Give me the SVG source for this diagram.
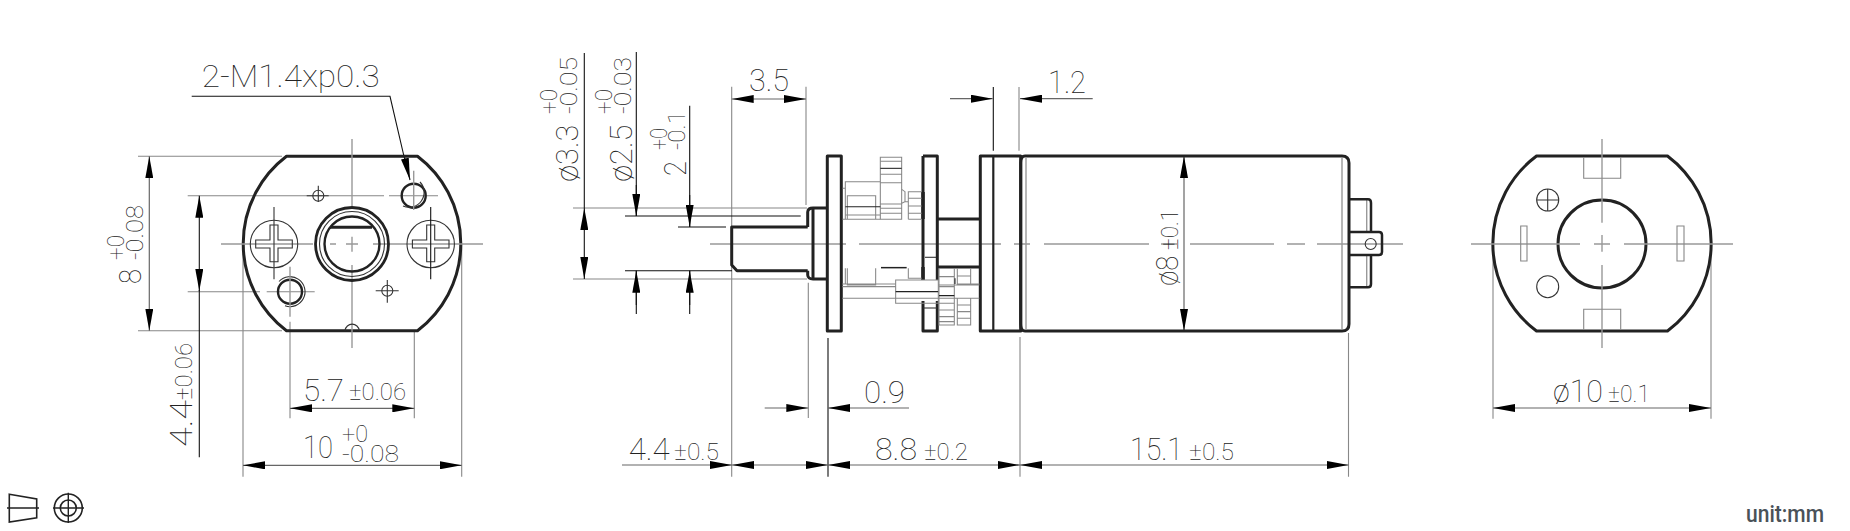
<svg xmlns="http://www.w3.org/2000/svg" width="1850" height="531" viewBox="0 0 1850 531">
<style>
text{font-family:Roboto,"Liberation Sans",sans-serif;font-weight:100;fill:#222}
.b{font-size:32px}
.s{font-size:23px}
.u{font-family:Roboto,"Liberation Sans",sans-serif;font-size:24px;font-weight:500;fill:#4a5258}
.o{fill:none;stroke:#222;stroke-width:3;stroke-linejoin:round}
.m{fill:none;stroke:#333;stroke-width:1.1}
.c{fill:none;stroke:#999;stroke-width:1.4}
.e{fill:none;stroke:#888;stroke-width:1.1}
.k{fill:none;stroke:#111;stroke-width:1.1}
.d{fill:none;stroke:#666;stroke-width:1.2;marker-start:url(#a);marker-end:url(#a)}
.r{fill:none;stroke:#666;stroke-width:1.2;marker-end:url(#a)}
.kd{fill:none;stroke:#111;stroke-width:1.1;marker-start:url(#a);marker-end:url(#a)}
.kr{fill:none;stroke:#111;stroke-width:1.1;marker-end:url(#a)}
</style>
<defs>
<marker id="a" markerUnits="userSpaceOnUse" markerWidth="22" markerHeight="8" viewBox="0 0 22 8" refX="22" refY="4" orient="auto-start-reverse"><path d="M0 0L22 4L0 8z" fill="#000"/></marker>
</defs>
<rect width="1850" height="531" fill="#fff"/>

<g id="connectors">
<path class="e" d="M138 156.3H282M138 330.7H282M187.7 195.7H384M389 195.7H438M187.7 291.7H260M266.7 291.7H314.7"/>
<path class="d" d="M149.3 156.3V330.7"/>
<path class="k" d="M199.3 290V457.3"/>
<path class="kd" d="M199.3 195.7V291"/>
<path class="e" d="M290 321.7V418.3M414.3 331V418.3M243 244V476.7M461.7 244V476.7"/>
<path class="d" d="M290 408.3H414.3"/>
<path class="d" d="M243 465.3H461.7"/>
<path class="k" d="M191.7 96.3H390L406 165"/>
<path class="kr" d="M404 155L410 180"/>
<path class="e" d="M573 208H807M573 279H807M731.7 86.7V476.7M806 86.7V205M808.3 282.7V418"/>
<path class="k" d="M625 216H800.7M625 270.7H732M678 227H726"/>
<path class="kd" d="M584.3 208V279"/>
<path class="k" d="M584.3 53V208"/>
<path class="k" d="M636.3 52V216M636.3 270.7V314M689.7 105.7V227M689.7 270.7V314"/>
<path class="kr" d="M636.3 185V216"/>
<path class="kr" d="M636.3 305V270.7"/>
<path class="kr" d="M689.7 195V226.7"/>
<path class="kr" d="M689.7 305V270.7"/>
<path class="d" d="M731.7 99H806"/>
<path class="k" d="M993.3 87V150.7M828 338V476.7"/>
<path class="e" d="M1019 87V150.7M1020 337V476.7M1348.5 333V476.7"/>
<path class="r" d="M950 98.7H992.7"/>
<path class="r" d="M1092.7 98.7H1020"/>
<path class="r" d="M764.7 408H808.3"/>
<path class="r" d="M909 408H828"/>
<path class="r" d="M622 465H732"/>
<path class="d" d="M732 465H828"/>
<path class="d" d="M828 465H1020"/>
<path class="d" d="M1020 465H1348.5"/>
<path class="d" d="M1184 156V331"/>
<path class="e" d="M1493 244V418.7M1711 244V418.7"/>
<path class="d" d="M1493 408H1711"/>
</g>

<g id="front-view">
<path class="o" d="M286.5 156.3H417.5A109.5 109.5 0 0 1 417.5 330.7H286.5A109.5 109.5 0 0 1 286.5 156.3Z"/>
<path class="c" d="M352 139V206M352 236.7V251.7M352 265V348M221 244H313M330 244H336M346 244H358M373 244H483"/>
<circle class="m" cx="318.3" cy="195.7" r="5.5"/><path class="m" d="M306.7 195.7H328.7M318.3 185.7V202"/>
<circle class="m" cx="387.3" cy="290.7" r="5.5"/><path class="m" d="M375.7 290.7H398.7M387.3 280V302.7"/>
<circle cx="413.7" cy="195.7" r="12" fill="none" stroke="#222" stroke-width="2.4"/>
<path class="m" d="M420 182A15 15 0 0 1 403 206"/>
<path class="c" d="M413.7 170.7V210"/>
<circle cx="290" cy="291.7" r="12" fill="none" stroke="#222" stroke-width="2.4"/>
<path class="m" d="M279 281.5A15 15 0 1 1 285 305.8"/>
<path class="c" d="M290 266.7V316.7"/>
<circle class="m" cx="274" cy="244" r="23.7"/>
<path class="m" d="M270 225H278V240H292.3V248H278V261.7H270V248H255.7V240H270Z"/>
<path class="m" d="M274 207V279.3"/>
<circle class="m" cx="430.7" cy="244" r="23.7"/>
<path class="m" d="M426.7 225H434.7V240H449V248H434.7V261.7H426.7V248H412.4V240H426.7Z"/>
<path class="k" d="M430.7 207V279.3"/>
<circle cx="352" cy="244" r="36.5" fill="none" stroke="#222" stroke-width="2.8"/>
<circle class="m" cx="352" cy="244" r="32.5"/>
<circle cx="352" cy="244" r="27.5" fill="none" stroke="#222" stroke-width="2.4"/>
<path fill="none" stroke="#222" stroke-width="3" d="M330 227.3H372"/>
<path class="m" d="M345 330.5A7.2 7.2 0 0 1 359.3 330.5"/>
<text class="b" x="201.7" y="86.7" textLength="178" lengthAdjust="spacingAndGlyphs">2-M1.4xp0.3</text>
<text class="b" x="303" y="400.7" textLength="41" lengthAdjust="spacingAndGlyphs">5.7</text>
<text class="s" x="349" y="400" textLength="57" lengthAdjust="spacingAndGlyphs">±0.06</text>
<text class="b" x="303" y="458" textLength="30" lengthAdjust="spacingAndGlyphs">10</text>
<text class="s" x="342" y="441.7" textLength="26" lengthAdjust="spacingAndGlyphs">+0</text>
<text class="s" x="342" y="461.7" textLength="57" lengthAdjust="spacingAndGlyphs">-0.08</text>
<text class="b" transform="translate(192 447) rotate(-90)" textLength="47" lengthAdjust="spacingAndGlyphs">4.4</text>
<text class="s" transform="translate(192 400) rotate(-90)" textLength="57" lengthAdjust="spacingAndGlyphs">±0.06</text>
<text class="b" transform="translate(140.7 284) rotate(-90)" textLength="15" lengthAdjust="spacingAndGlyphs">8</text>
<text class="s" transform="translate(142.7 260) rotate(-90)" textLength="55" lengthAdjust="spacingAndGlyphs">-0.08</text>
<text class="s" transform="translate(124 260) rotate(-90)" textLength="25" lengthAdjust="spacingAndGlyphs">+0</text>
</g>

<g id="side-view">
<path class="c" d="M710 244H846M859 244H1001M1014 244H1030M1044 244H1149M1161 244H1177M1190 244H1274M1287 244H1305M1317 244H1403"/>
<path class="o" d="M807.7 227H731.7V265L737 270.7H807.7"/>
<path class="o" d="M807.7 227V212Q808 208 813 208H827M807.7 270.7V275Q808 279 813 279H827M813 208V279"/>
<rect class="o" x="827.3" y="156" width="14" height="175"/>
<path class="o" d="M923 156H937.3V267M923 156V280M923 301V331H937.3V301M937.3 267V280"/>
<path fill="none" stroke="#222" stroke-width="3.5" d="M923 192V219M923 267V280"/>
<path class="m" d="M925 257.3H936"/>
<path class="m" d="M923 308H937"/>
<path class="o" d="M937.3 219H980.3M937.3 267H980.3"/>
<path class="o" d="M980.3 156H1020.7V331H980.3Z"/>
<path fill="none" stroke="#222" stroke-width="2.2" d="M993.3 156V331"/>
<path class="o" d="M1025 156H1342Q1349 156 1349 163V324Q1349 331 1342 331H1025Q1020.7 331 1020.7 324V163Q1020.7 156 1025 156Z"/>
<path class="c" d="M1026 157V330M1342 158V329M1366.7 200V232M1366.7 256V287"/>
<path fill="none" stroke="#222" stroke-width="2.5" d="M1349 199.3H1368Q1371 199.3 1371 203V232M1349 287.3H1368Q1371 287.3 1371 284V255M1349 232H1379Q1382 232 1382 235V252Q1382 255 1379 255H1349"/>
<circle class="m" cx="1370.7" cy="244" r="5.5"/>
<g transform="translate(800 130) scale(.3333)" fill="none" stroke="#888" stroke-width="3.2">
<path d="M241 82H305V268H241ZM241 94H305M241 133H305M241 158H305M241 222H305M241 235H305M241 250H305"/>
<path stroke="#222" d="M241 115H305"/>
<path d="M136 268V155H241M128 175H136M128 268H241M142 268V197H227V268"/>
<path stroke="#222" d="M136 230H241"/>
<path d="M136 255H241M305 178L315 185V215L305 220M315 215H325V268M325 268V185H365M325 205H365M325 228H365M325 250H365M325 268H365"/>
<path d="M136 415V462M142 415V465H227V415M127 462H287M127 505H287M127 470H287M287 450H415V520H287ZM287 505H415M325 415V445H365"/>
<path stroke="#222" d="M287 485H415"/>
<path stroke="#222" stroke-width="4.5" d="M243 413H320"/>
<path d="M417 415V585H463V415M417 440H463M417 470H463M417 520H463M417 540H463M417 560H463M417 575H463"/>
<path stroke="#222" d="M417 497H463M465 445V462"/>
<path d="M472 415V465H512V415M472 438H512M472 462H512M472 505V585H512V505M472 525H512M472 545H512M472 565H512M512 462H538M415 465H538M415 505H538"/>
</g>
<text class="b" transform="translate(578 181.7) rotate(-90)" textLength="57" lengthAdjust="spacingAndGlyphs">ø3.3</text>
<text class="s" transform="translate(577 114) rotate(-90)" textLength="57" lengthAdjust="spacingAndGlyphs">-0.05</text>
<text class="s" transform="translate(557 114) rotate(-90)" textLength="25" lengthAdjust="spacingAndGlyphs">+0</text>
<text class="b" transform="translate(631.7 181.7) rotate(-90)" textLength="57" lengthAdjust="spacingAndGlyphs">ø2.5</text>
<text class="s" transform="translate(631 114) rotate(-90)" textLength="57" lengthAdjust="spacingAndGlyphs">-0.03</text>
<text class="s" transform="translate(611.7 114) rotate(-90)" textLength="25" lengthAdjust="spacingAndGlyphs">+0</text>
<text class="b" transform="translate(685.7 176) rotate(-90)" textLength="15" lengthAdjust="spacingAndGlyphs">2</text>
<text class="s" transform="translate(685 150) rotate(-90)" textLength="39" lengthAdjust="spacingAndGlyphs">-0.1</text>
<text class="s" transform="translate(666.7 150) rotate(-90)" textLength="22" lengthAdjust="spacingAndGlyphs">+0</text>
<text class="b" x="749" y="91" textLength="40" lengthAdjust="spacingAndGlyphs">3.5</text>
<text class="b" x="1048" y="93" textLength="38" lengthAdjust="spacingAndGlyphs">1.2</text>
<text class="b" x="864" y="403" textLength="41" lengthAdjust="spacingAndGlyphs">0.9</text>
<text class="b" x="628.7" y="460" textLength="41" lengthAdjust="spacingAndGlyphs">4.4</text>
<text class="s" x="674" y="460" textLength="45" lengthAdjust="spacingAndGlyphs">±0.5</text>
<text class="b" x="875" y="460" textLength="42" lengthAdjust="spacingAndGlyphs">8.8</text>
<text class="s" x="924" y="460" textLength="44" lengthAdjust="spacingAndGlyphs">±0.2</text>
<text class="b" x="1130" y="460" textLength="53" lengthAdjust="spacingAndGlyphs">15.1</text>
<text class="s" x="1189" y="460" textLength="45" lengthAdjust="spacingAndGlyphs">±0.5</text>
<text class="b" transform="translate(1178.3 285.7) rotate(-90)" textLength="30" lengthAdjust="spacingAndGlyphs">ø8</text>
<text class="s" transform="translate(1178.3 250) rotate(-90)" textLength="41" lengthAdjust="spacingAndGlyphs">±0.1</text>
</g>

<g id="rear-view">
<path class="o" d="M1536.5 156H1667.5A109.5 109.5 0 0 1 1667.5 331H1536.5A109.5 109.5 0 0 1 1536.5 156Z"/>
<circle class="o" cx="1602" cy="244" r="44"/>
<path class="c" d="M1471 244H1580M1594 244H1610M1624 244H1733M1602 139V222.7M1602 235V251.7M1602 265V348"/>
<circle class="m" cx="1547.7" cy="200" r="11"/><path class="m" d="M1536.7 200H1558.7M1547.7 189V211"/>
<circle class="m" cx="1547.7" cy="286.7" r="11"/>
<path class="e" d="M1520.7 226H1527V261H1520.7ZM1677 226H1684V261H1677ZM1583.7 157V178.3H1620.7V157M1583.7 330V309.3H1620.7V330"/>
<text class="b" x="1553" y="401.7" textLength="50" lengthAdjust="spacingAndGlyphs">ø10</text>
<text class="s" x="1608" y="401.7" textLength="42" lengthAdjust="spacingAndGlyphs">±0.1</text>
</g>

<g id="projection-symbol">
<path fill="none" stroke="#222" stroke-width="1.6" d="M9.3 494.3L36.7 499V517.7L9.3 522ZM7 508H39"/>
<circle cx="68.3" cy="508" r="14" fill="none" stroke="#222" stroke-width="1.6"/>
<circle cx="68.3" cy="508" r="8" fill="none" stroke="#222" stroke-width="1.6"/>
<path fill="none" stroke="#222" stroke-width="1.4" d="M53 508H84M68.3 492.7V523"/>
</g>
<g id="unit-label"><text class="u" x="1746" y="522" textLength="78" lengthAdjust="spacingAndGlyphs">unit:mm</text></g>
</svg>
